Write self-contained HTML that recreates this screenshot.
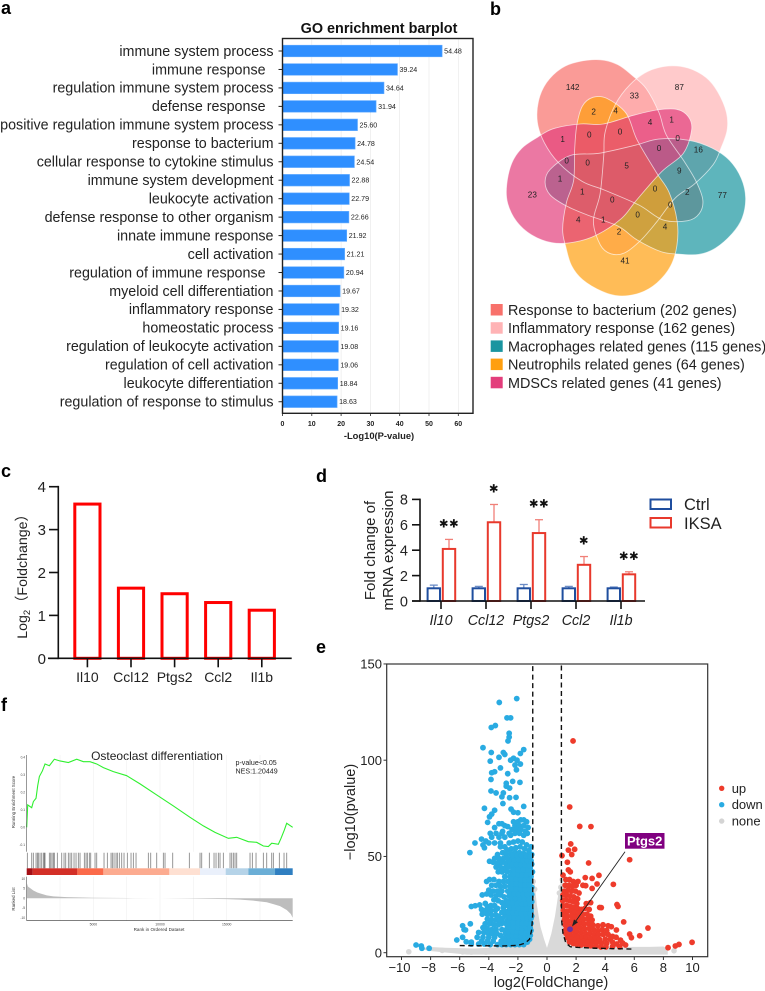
<!DOCTYPE html>
<html lang="en">
<head>
<meta charset="utf-8">
<title>Multi-panel enrichment figure</title>
<style>
html,body{margin:0;padding:0;background:#fff;}
svg{display:block;position:absolute;left:0;top:0;font-family:"Liberation Sans","Noto Sans CJK SC",sans-serif;}
.pl{font-size:18px;font-weight:bold;fill:#000;}
</style>
</head>
<body>
<svg id="figure" width="765" height="991" viewBox="0 0 765 991" xmlns="http://www.w3.org/2000/svg">
  <rect x="0" y="0" width="765" height="991" fill="#fff"/>
  <text class="pl" x="1" y="14">a</text>
  <text class="pl" x="490" y="15">b</text>
  <text class="pl" x="1" y="477">c</text>
  <text class="pl" x="316" y="482">d</text>
  <text class="pl" x="316" y="653">e</text>
  <text class="pl" x="1" y="711">f</text>

  <g id="panel-a">
    <text x="379" y="33" text-anchor="middle" font-size="14.4" font-weight="bold" fill="#111">GO enrichment barplot</text>
    <text x="379" y="439" text-anchor="middle" font-size="9.4" font-weight="bold" fill="#222">-Log10(P-value)</text>
  </g>

  <g id="panel-b">
    <g id="venn-shapes" transform="translate(470,0) scale(0.33333)"></g>
    <g id="venn-counts" transform="translate(470,0) scale(0.33333)" font-size="24.5" text-anchor="middle" fill="#222">
      <text x="308" y="270">142</text>
      <text x="628" y="270">87</text>
      <text x="493" y="296">33</text>
      <text x="371" y="343">2</text>
      <text x="437" y="341">4</text>
      <text x="540" y="375">4</text>
      <text x="605" y="368">1</text>
      <text x="278" y="426">1</text>
      <text x="358" y="413">0</text>
      <text x="450" y="403">0</text>
      <text x="623" y="423">0</text>
      <text x="567" y="453">0</text>
      <text x="685" y="457">16</text>
      <text x="290" y="491">0</text>
      <text x="353" y="496">0</text>
      <text x="470" y="505">5</text>
      <text x="628" y="520">9</text>
      <text x="270" y="545">1</text>
      <text x="187" y="593">23</text>
      <text x="337" y="583">1</text>
      <text x="427" y="608">0</text>
      <text x="555" y="575">0</text>
      <text x="652" y="585">2</text>
      <text x="757" y="594">77</text>
      <text x="601" y="622">0</text>
      <text x="503" y="653">0</text>
      <text x="325" y="668">4</text>
      <text x="400" y="668">1</text>
      <text x="585" y="688">4</text>
      <text x="447" y="703">2</text>
      <text x="465" y="790">41</text>
    </g>
    <g id="venn-legend" font-size="14.4" fill="#222">
      <rect x="490.7" y="304" width="12" height="11.5" fill="#f8716b"/>
      <text x="508" y="315">Response to bacterium (202 genes)</text>
      <rect x="490.7" y="322.2" width="12" height="11.5" fill="#ffb3b5"/>
      <text x="508" y="333.2">Inflammatory response (162 genes)</text>
      <rect x="490.7" y="340.4" width="12" height="11.5" fill="#1a95a0"/>
      <text x="508" y="351.4">Macrophages related genes (115 genes)</text>
      <rect x="490.7" y="358.6" width="12" height="11.5" fill="#ff9f10"/>
      <text x="508" y="369.6">Neutrophils related genes (64 genes)</text>
      <rect x="490.7" y="376.8" width="12" height="11.5" fill="#e33e7c"/>
      <text x="508" y="387.8">MDSCs related genes (41 genes)</text>
    </g>
  </g>

  <g id="panel-c">
    <text transform="translate(27,573) rotate(-90)" text-anchor="middle" font-size="14.2" fill="#222">Log<tspan font-size="9.5" dy="3">2</tspan><tspan dy="-3">（Foldchange）</tspan></text>
  </g>

  <g id="panel-d">
    <text transform="translate(375,550.5) rotate(-90)" text-anchor="middle" font-size="15" fill="#222">Fold change of</text>
    <text transform="translate(393,550.5) rotate(-90)" text-anchor="middle" font-size="15" fill="#222">mRNA expression</text>
    <rect x="650.5" y="499.5" width="20.5" height="9.5" fill="none" stroke="#1f4e9e" stroke-width="2"/>
    <text x="684" y="510" font-size="16.5" fill="#222">Ctrl</text>
    <rect x="650.5" y="518" width="20.5" height="9.5" fill="none" stroke="#e8392c" stroke-width="2"/>
    <text x="684" y="529" font-size="16.5" fill="#222">IKSA</text>
  </g>

  <g id="panel-e">
    <text transform="translate(355,812) rotate(-90)" text-anchor="middle" font-size="14.5" fill="#222">−log10(pvalue)</text>
    <text x="551" y="987" text-anchor="middle" font-size="14.3" fill="#222">log2(FoldChange)</text>
  </g>

  <g id="panel-f">
    <text x="157" y="760" text-anchor="middle" font-size="12" fill="#222">Osteoclast differentiation</text>
    <text x="235.5" y="765" font-size="7.1" fill="#222">p-value&lt;0.05</text>
    <text x="235.5" y="773.5" font-size="7.1" fill="#222">NES:1.20449</text>
    <text transform="translate(15,802) rotate(-90)" text-anchor="middle" font-size="4.4" fill="#333">Running Enrichment Score</text>
    <text transform="translate(15,899) rotate(-90)" text-anchor="middle" font-size="4.4" fill="#333">Ranked List</text>
    <text x="159" y="931" text-anchor="middle" font-size="4.6" fill="#333">Rank in Ordered Dataset</text>
  </g>
</svg>
<script>
/* ---------- panel a data ---------- */
const goTerms = ['immune system process','immune response\u00a0\u00a0','regulation immune system process','defense response\u00a0\u00a0','positive regulation immune system process','response to bacterium','cellular response to cytokine stimulus','immune system development','leukocyte activation','defense response to other organism','innate immune response','cell activation','regulation of immune response\u00a0\u00a0','myeloid cell differentiation','inflammatory response','homeostatic process','regulation of leukocyte activation','regulation of cell activation','leukocyte differentiation','regulation of response to stimulus'];
const goValues = [54.48,39.24,34.64,31.94,25.60,24.78,24.54,22.88,22.79,22.66,21.92,21.21,20.94,19.67,19.32,19.16,19.08,19.06,18.84,18.63];
const goTicks = [0,10,20,30,40,50,60];

/* ---------- panel c data ---------- */
const fcGenes = ['Il10','Ccl12','Ptgs2','Ccl2','Il1b'];
const fcValues = [3.63,1.67,1.54,1.335,1.156];
const fcTicks = [0,1,2,3,4];

/* ---------- panel d data ---------- */
const qpcrGenes = ['Il10','Ccl12','Ptgs2','Ccl2','Il1b'];
const ctrlMeans = [1,1,1,1,1];
const ctrlErrTops = [1.25,1.15,1.3,1.15,1.1];
const iksaMeans = [4.1,6.2,5.35,2.85,2.1];
const iksaErrTops = [4.85,7.6,6.4,3.5,2.3];
const qpcrStars = ['✱✱','✱','✱✱','✱','✱✱'];
const qpcrTicks = [0,2,4,6,8];

/* ---------- panel e data ---------- */
const volcanoXTicks = [-10,-8,-6,-4,-2,0,2,4,6,8,10];
const volcanoYTicks = [0,50,100,150];
const noneEnvelopeX = [-8.6,-8.2,-7,-6,-5,-4,-3,-2,-1.2,-1,-0.85,-0.7,-0.45,-0.2,0,0.1,0.3,0.55,0.75,0.95,1.1,1.25,1.5,2,3,4,5,6,7,8,8.3,8.3,-5.5,-8.2];
const noneEnvelopeY = [2,3,2.6,2.4,2.2,2.6,3,3.4,20,35,36,25,13.5,7,2.5,5,10,19,29,37,36,20,4,3,3,2.8,3,3,3,3.2,2,-1,-1,1];
const nonePoints = [[-9.5,0.5],[-8.1,2.3],[-7.2,1.2],[-5.8,0.4],[-5.2,0.3],[-4.2,0.3],[-3.6,0.5],[-0.95,37],[-0.85,33],[1.05,38],[0.95,34],[0.85,31],[8.73,1],[7.6,1.5],[6.5,1.2],[5.5,1],[4.3,0.7]];
const upPoints = [[1.79,110],[1.56,75.7],[2.25,65.6],[3.02,65.5],[1.63,56.5],[1.47,53.3],[1.9,53.7],[1.7,51],[1.03,50.4],[5.68,48.3],[2.86,46.6],[1.4,47],[1.47,43],[1.6,42],[1.1,40.3],[3.57,40.2],[2.63,39],[4.56,35.5],[3.44,35.7],[3.1,38.6],[2.47,35],[2.66,34.8],[2.13,37],[3.1,33.4],[4.81,25],[4.88,24],[3.62,23.5],[3.73,23.4],[5.27,16],[6.94,12.8],[6.37,8.8],[5.68,9.7],[5.8,7.8],[9.97,5.4],[9.07,4.3],[8.82,3.5],[8.32,2.6],[4.2,14],[4.42,13.5],[4.77,11.8],
[1.3,38],[1.55,38],[1.8,37],[2,35],[1.25,35],[1.5,35],[1.75,34.5],[1.2,32],[1.45,32.5],[1.7,32],[1.95,32],[2.2,31],[1.1,30],[1.35,30],[1.6,29.5],[1.85,29],[2.1,28],[1.08,27],[1.3,27.5],[1.55,27],[1.8,26.5],[2.05,25.5],[2.7,25.5],[3,26],[1.1,24.5],[1.35,24.5],[1.6,24],[1.85,23.5],[2.1,23],[2.35,22.5],[2.6,23],[2.9,22.5],[1.12,22],[1.4,21.5],[1.65,21.5],[1.9,21],[2.15,20.5],[2.45,20],[2.75,20],[3,19],[1.15,19.5],[1.4,19],[1.7,19],[1.95,18.5],[2.2,18],[2.5,17.5],[2.8,17.5],[3.1,17],[1.2,17],[1.45,16.5],[1.7,16.5],[1.95,16],[2.25,15.5],[2.55,15],[2.85,15],[3.15,14.5],[3.5,14],[3.85,14.5],[1.25,14.5],[1.5,14],[1.75,14],[2,13.5],[2.3,13],[2.6,12.5],[2.9,12.5],[3.2,12],[3.5,11.5],[3.8,12],[4.1,11.5],[1.3,12],[1.55,11.5],[1.8,11.5],[2.05,11],[2.35,10.5],[2.65,10],[2.95,10],[3.25,9.5],[3.55,9.5],[3.85,9.5],[4.2,9.5],[4.5,8.5],[1.3,10],[1.55,9.5],[1.85,9],[2.1,8.5],[2.4,8],[2.7,8],[3,7.5],[3.3,7.5],[3.6,7],[4,7],[4.35,7],[4.75,8],[5.05,6.5],[1.4,7.8],[1.65,7.2],[1.9,6.5],[2.2,6],[2.5,6],[2.8,5.5],[3.1,5.5],[3.4,5],[3.75,5],[4.1,4.8],[4.5,5.5],[4.8,4.5],[5.2,5],[5.4,4],[1.55,5.5],[1.8,4.8],[2.05,4.3],[2.35,4],[2.7,3.8],[3,3.6],[3.35,3.4],[3.7,3],[4.05,3],[4.5,3.2],[5,3]];
const focusGene = [1.58,12.2];
const downPoints = [[-2.08,132],[-3.28,130],[-2.75,122],[-2.5,122],[-3.83,117],[-3.55,118],[-2.6,114],[-2.6,112],[-2.68,110],[-4.4,106.5],[-1.6,105.5],[-1.83,103.5],[-3,104],[-2.9,103],[-3.83,104],[-3.3,101.5],[-3.9,99.5],[-2.3,101],[-2.5,100],[-2.06,100],[-1.83,98],[-2.2,97.5],[-2.1,95],[-3.2,96],[-3.8,93.5],[-3.6,94],[-2.7,93],[-3.85,90],[-2.36,89],[-1.86,88.5],[-2.8,88],[-2.8,86.5],[-2.57,85.5],[-3,83],[-3.85,84],[-3.5,83],[-3.1,81],[-2.57,80.5],[-2.13,80.7],[-3.03,77.5],[-1.6,76],[-4.3,75],[-2.47,74.6],[-2.3,73],[-2,72.7],[-3.6,74],[-3.8,72],[-3.95,70.6],[-4.08,67.7],
[-3.3,67],[-3.1,67],[-2.9,66],[-2.7,65.5],[-2.3,68],[-2.0,68],[-1.8,69],[-1.6,69],[-1.4,68],[-2.2,66],[-1.9,66],[-1.6,66],[-2.4,64],[-2.1,64],[-1.8,64],[-1.5,63],[-1.3,65],[-2.5,61],[-2.2,62],[-1.9,62],[-1.6,61],[-1.35,62],[-3.6,65],[-3.9,62],[-3.5,62],[-3.1,62],[-2.9,60],[-2.6,62],[-4.5,59],[-4.2,58],[-3.8,60],[-3.3,60],[-3.05,63],[-4.95,57],[-4.4,56],[-4.3,54.5],[-4,57],[-3.6,57],[-3.2,57],[-5.3,52],
[-3.2,55],[-2.9,55],[-2.6,57],[-2.3,57.5],[-2,58],[-1.7,57.5],[-1.4,56],[-1.1,55],[-2.75,53.5],[-2.45,54],[-2.15,54.5],[-1.85,55],[-1.55,54],[-1.25,53],[-3.4,51],[-3.05,52],[-2.8,51],[-2.5,51.5],[-2.2,52],[-1.9,52],[-1.6,51.5],[-1.3,51],[-1.05,51],[-3.6,49],[-3.3,49],[-3,49],[-2.7,49],[-2.4,49.5],[-2.1,49.5],[-1.8,49],[-1.5,49],[-1.2,48.5],[-3.95,47.5],[-3.7,47],[-3.4,46.5],[-3.1,47],[-2.85,46.5],[-2.55,47],[-2.25,47],[-1.95,47],[-1.65,46.5],[-1.35,46.5],[-1.05,46],[-3.5,44.5],[-3.2,44.5],[-2.9,44],[-2.65,44.5],[-2.35,44.5],[-2.05,44.5],[-1.75,44],[-1.45,44],[-1.15,44],[-3.35,42],[-3.1,42],[-2.75,42],[-2.45,42],[-2.15,42],[-1.85,41.5],[-1.55,41.5],[-1.25,41.5],[-1,42],[-2.9,39.5],[-2.55,39.5],[-2.25,39.5],[-1.95,39],[-1.65,39],[-1.35,39],[-1.1,39.5],[-3.95,38],[-4.15,37],[-3.65,38],[-3.3,37],[-3,37],[-2.7,37],[-2.4,37],[-2.1,37],[-1.8,36.5],[-1.5,36.5],[-1.2,36.5],[-3.8,35],[-3.5,35],[-3.2,34.5],[-2.9,34.5],[-2.55,34.5],[-2.25,34.5],[-1.95,34],[-1.65,34],[-1.35,34],[-1.05,34],[-4,32.5],[-3.7,32],[-3.4,32],[-3.1,32],[-2.7,32],[-2.4,32],[-2.1,31.5],[-1.8,31.5],[-1.5,31.5],[-1.2,31.5],[-4.45,30],[-4.15,30.5],[-3.85,30],[-3.5,29.5],[-3.2,30],[-2.6,29.5],[-2.3,29.5],[-2,29],[-1.7,29],[-1.4,29],[-1.1,29],[-3.65,27.5],[-3.35,27],[-2.8,27],[-2.5,27],[-2.2,27],[-1.9,26.5],[-1.6,26.5],[-1.3,26.5],[-1.05,26.5],[-5.2,24],[-4.93,24.4],[-4.63,24.8],[-4.24,25.6],[-4.1,24],[-3.85,24.5],[-3.6,24.5],[-2.7,24.5],[-2.4,24.5],[-2.1,24.5],[-1.8,24],[-1.5,24],[-1.2,24],[-4.5,22.5],[-4.2,22],[-3.85,22],[-3.55,22],[-2.6,22],[-2.3,22],[-2,22],[-1.7,21.5],[-1.4,21.5],[-1.1,21.5],[-4.45,20],[-4.1,20],[-3.8,19.5],[-3.5,19.5],[-2.85,19.5],[-2.5,19.5],[-2.2,19.5],[-1.9,19],[-1.6,19],[-1.3,19],[-1.05,19],[-4.1,17.5],[-3.8,17],[-3.5,17],[-2.7,17],[-2.4,17],[-2.1,17],[-1.8,16.5],[-1.5,16.5],[-1.2,16.5],[-5.27,15],[-4.25,15],[-3.95,15],[-3.65,14.5],[-3.35,14.5],[-2.75,14.5],[-2.45,14.5],[-2.15,14.5],[-1.85,14],[-1.55,14],[-1.25,14],[-5.8,14],[-5.7,12],[-5.6,11.8],[-4.4,13],[-4.1,12.5],[-3.8,12],[-3.5,12],[-2.8,12],[-2.5,12],[-2.2,12],[-1.9,11.5],[-1.6,11.5],[-1.3,11.5],[-1.1,11.5],[-4.7,10.5],[-4.35,10.5],[-4.05,10],[-3.75,10],[-3.45,10],[-2.85,10],[-2.55,9.5],[-2.25,9.5],[-1.95,9.5],[-1.65,9.5],[-1.35,9.5],[-1.15,9],[-5.8,8],[-5.55,5.7],[-4.8,8],[-4.4,8],[-4,8],[-3.6,8],[-3,7.5],[-2.75,7.5],[-2.45,7.5],[-2.2,7.5],[-1.95,7.5],[-1.7,7],[-1.4,7],[-1.2,7],[-6.2,6.6],[-5.2,5.5],[-4.5,6],[-4.1,6],[-3.7,6],[-2.9,5.8],[-2.6,5.8],[-2.3,5.8],[-2.05,5.8],[-1.8,5.5],[-1.55,5.5],[-1.35,5.5],[-5.2,4.5],[-4.7,4.5],[-4.3,4.5],[-3.9,4.2],[-3.4,4.2],[-3.1,4.2],[-2.8,4.2],[-2.5,4.2],[-2.2,4.2],[-1.9,4.2],[-1.6,4.2],[-9,4],[-8.64,3.5],[-8.6,2.3],[-8.1,2.3],
[-3.15,6],[-3.2,9],[-3.1,12],[-3.15,15],[-3.05,18],[-3.1,21],[-3,23.5],[-3.1,26],[-2.95,29],[-2.95,15.5],[-2.9,21.5],[-2.95,25],[-3.4,23],[-3.35,19],[-3.25,17],
[-2.65,8.7],[-2.35,8.7],[-2.1,8.7],[-1.8,8.5],[-1.5,8.5],[-1.25,8.3],[-2.65,11],[-2.35,11],[-2.05,10.7],[-1.75,10.5],[-1.45,10.5],[-1.2,10.2],[-2.6,13.3],[-2.3,13.3],[-2,13],[-1.7,12.8],[-1.4,12.8],[-1.15,12.8],[-2.6,15.8],[-2.3,15.8],[-2,15.3],[-1.7,15.3],[-1.4,15.3],[-1.1,15.3],[-2.55,18.2],[-2.25,18.2],[-1.95,17.8],[-1.65,17.8],[-1.35,17.8],[-1.1,17.8],[-2.65,20.8],[-2.35,20.8],[-2.05,20.5],[-1.75,20.3],[-1.45,20.3],[-1.15,20.3],[-2.55,23.2],[-2.25,23.2],[-1.95,23],[-1.65,22.8],[-1.35,22.8],[-1.1,22.8],[-2.65,25.8],[-2.35,25.8],[-2.05,25.5],[-1.75,25.3],[-1.45,25.3],[-1.15,25.3],[-2.45,28.3],[-2.15,28.3],[-1.85,27.8],[-1.55,27.8],[-1.25,27.8],[-2.55,30.8],[-2.25,30.8],[-1.95,30.3],[-1.65,30.3],[-1.35,30.3],[-1.05,30.3],[-2.4,33.2],[-2.1,33],[-1.8,32.8],[-1.5,32.8],[-1.2,32.8],[-2.4,35.8],[-2.1,35.8],[-1.8,35.3],[-1.5,35.3],[-1.2,35.3],[-2.4,38.2],[-2.1,38.2],[-1.8,37.8],[-1.5,37.8],[-1.2,37.8],[-2.3,40.8],[-2,40.5],[-1.7,40.3],[-1.4,40.3],[-1.1,40.8],[-2.3,43.2],[-2,43.2],[-1.6,43],[-1.3,43],[-2.4,45.8],[-2.1,45.8],[-1.8,45.5],[-1.5,45.5],[-1.2,45.3],[-2.25,48.3],[-1.95,48.3],[-1.65,48],[-1.35,47.8],[-1.1,47.8],[-2.35,50.5],[-2.05,50.5],[-1.75,50.5],[-1.45,50.3],[-1.15,50]];
const thresholdLeftX = [-6,-3,-2,-1.5,-1.2,-1.05,-0.98,-0.98];
const thresholdLeftY = [3.7,3.5,3.8,5,7,12,20,150];
const thresholdRightX = [5.8,3,2,1.6,1.3,1.1,0.99,0.99];
const thresholdRightY = [1.9,2.4,2.8,3.1,5,10,18,150];
const volcanoLegendLabels = ['up','down','none'];
const volcanoLegendColors = ['#ee3b2b','#29abe2','#d4d4d4'];

/* ---------- panel f data ---------- */
const esRanks = [0,75,375,500,700,825,950,1175,1375,1700,2075,2500,3125,3750,4250,4750,5250,5750,6500,7500,8500,9750,11000,12250,13250,14125,15125,15750,16625,17250,17750,18125,18375,18875,19075,19325,19500,19950];
const esValues = [0,0.128,0.112,0.147,0.166,0.238,0.29,0.322,0.362,0.352,0.389,0.379,0.37,0.389,0.375,0.375,0.362,0.341,0.318,0.295,0.248,0.185,0.122,0.057,0.008,-0.029,-0.063,-0.057,-0.082,-0.086,-0.107,-0.11,-0.091,-0.097,-0.063,-0.015,0.023,0];
const esTicks = [-0.1,0,0.1,0.2,0.3,0.4];
const hitRanks = [50,375,500,700,800,875,1000,1125,1250,1325,1375,1700,1800,1900,2000,2075,2300,2625,2800,2925,3125,3250,3375,3550,3700,3875,4000,4325,4450,4550,4700,4800,5125,5250,5800,6050,6325,6425,6550,6700,6800,6950,7125,7300,7550,7825,8000,8200,9125,9300,9750,10250,10375,10950,12200,13000,13125,13700,14050,14200,14375,14500,14750,15250,15375,15500,15625,15750,16750,16925,17200,17750,18000,18375,18500,18950,19300,19500];
const heatBreaks = [0,450,3800,5750,10700,13000,14925,16625,18625,19950];
const heatColors = ['#a50f15','#d32f27','#fb6a4a','#fcab90','#fee0d2','#eaf0fb','#b5d3e8','#6baed6','#2f7fc1'];
const rankedRanks = [0,100,300,500,800,1000,1500,2000,3000,5000,8000,10000,12000,15000,16000,17000,18000,18500,19000,19500,19800,19950];
const rankedValues = [8,6,5,4,3,2.5,1.5,1,0.6,0.3,0.1,0,-0.1,-0.4,-0.7,-1.2,-2,-3,-4,-6,-8,-10];
const rankedTicks = [-10,-5,0,5,10];
const gseaXTicks = [5000,10000,15000];
const gseaGrid = [2500,5000,7500,10000,12500,15000,17500];

/* ---------- helpers and scales ---------- */
const NS = 'http://www.w3.org/2000/svg';
function el(parent, tag, attrs, text) {
  const e = document.createElementNS(NS, tag);
  for (const k in attrs) e.setAttribute(k, attrs[k]);
  if (text !== undefined) e.textContent = text;
  parent.appendChild(e);
  return e;
}
const goX = v => 282.5 + v * 2.93;
const goY = i => 51 + i * 18.46;
const cX = i => 87.4 + i * 43.6;
const cY = v => 658.3 - v * 42.9;
const dX = i => 441 + i * 45;
const dY = v => 601 - v * 12.7;
const eX = v => 547 + v * 14.55;
const eY = v => 952.7 - v * 1.925;
const fX = r => 26.7 + r * 0.013333;
const fES = v => 827.3 - v * 175;
const fRK = v => 898.3 - v * 1.95;
const pairsPath = (xs, ys, fx, fy) => xs.map((x, i) => (i ? 'L' : 'M') + fx(x).toFixed(2) + ' ' + fy(ys[i]).toFixed(2)).join('');

/* ---------- panel a ---------- */
const pa = document.getElementById('panel-a');
goTicks.forEach(t => {
  if (t === 0) return;
  const g = el(pa, 'line', {x1: goX(t), x2: goX(t), y1: 38.5, y2: 413, stroke: '#cfcfcf', 'stroke-width': 0.6, 'stroke-dasharray': '1 1'});
  
  
});
goTerms.forEach((term, i) => {
  const bar = el(pa, 'rect', {x: goX(0), y: goY(i) - 5.8, width: goX(goValues[i]) - goX(0), height: 11.6, fill: '#2f8fff', stroke: '#66adff', 'stroke-width': 0.6});
  
  
  const tick = el(pa, 'line', {x1: 278.5, x2: goX(0), y1: goY(i), y2: goY(i), stroke: '#222', 'stroke-width': 1});
  
  
  const lab = el(pa, 'text', {x: 273.5, y: goY(i) + 4.8, 'text-anchor': 'end', 'font-size': 14.3, fill: '#222'}, term);
  
  
  const val = el(pa, 'text', {x: goX(goValues[i]) + 2, y: goY(i) + 2.5, 'font-size': 7.1, fill: '#222'}, goValues[i].toFixed(2));
  
  
});
const goFrame = el(pa, 'rect', {x: 282.5, y: 38.5, width: 190.5, height: 374.8, fill: 'none', stroke: '#222', 'stroke-width': 1.4});


goTicks.forEach(t => {
  const tk = el(pa, 'line', {x1: goX(t), x2: goX(t), y1: 413.3, y2: 416, stroke: '#222', 'stroke-width': 0.8});
  
  
  const tl = el(pa, 'text', {x: goX(t), y: 426, 'text-anchor': 'middle', 'font-size': 7, 'font-weight': 'bold', fill: '#222'}, t);
  
  
});

/* ---------- panel b ---------- */
const vennOutline = [[202,412],[250,386],[330,372],[400,372],[490,346],[560,330],[620,328],[655,350],[665,390],[640,460],[575,515],[500,600],[455,655],[380,705],[310,727],[245,728],[185,705],[140,665],[113,610],[110,555],[125,490],[155,445]];
function closedSpline(p) {
  let d = 'M' + p[0][0] + ' ' + p[0][1];
  const n = p.length;
  for (let i = 0; i < n; i++) {
    const a = p[(i - 1 + n) % n], b = p[i], c = p[(i + 1) % n], e = p[(i + 2) % n];
    const c1x = b[0] + (c[0] - a[0]) / 6, c1y = b[1] + (c[1] - a[1]) / 6;
    const c2x = c[0] - (e[0] - b[0]) / 6, c2y = c[1] - (e[1] - b[1]) / 6;
    d += 'C' + c1x.toFixed(1) + ' ' + c1y.toFixed(1) + ' ' + c2x.toFixed(1) + ' ' + c2y.toFixed(1) + ' ' + c[0] + ' ' + c[1];
  }
  return d + 'Z';
}
const vennD = closedSpline(vennOutline);
const vennLayers = [[72,'#f8716b'],[144,'#ffb3b5'],[216,'#1a95a0'],[288,'#ff9f10'],[0,'#e33e7c']];
const vs = document.getElementById('venn-shapes');
vennLayers.forEach(l => {
  const s = el(vs, 'path', {d: vennD, transform: 'rotate(' + l[0] + ' 472 518)', fill: l[1], 'fill-opacity': 0.7});
  
  
});
vennLayers.forEach(l => {
  const s = el(vs, 'path', {d: vennD, transform: 'rotate(' + l[0] + ' 472 518)', fill: 'none', stroke: '#fff', 'stroke-opacity': 0.65, 'stroke-width': 2.6});
  
  
});

/* ---------- panel c ---------- */
const pc = document.getElementById('panel-c');
fcGenes.forEach((g, i) => {
  const b = el(pc, 'rect', {x: cX(i) - 12.6, y: cY(fcValues[i]) + 1.5, width: 25.2, height: cY(0) - cY(fcValues[i]) - 1.5, fill: 'none', stroke: '#ff0000', 'stroke-width': 3});
  
  
  const t = el(pc, 'line', {x1: cX(i), x2: cX(i), y1: cY(0), y2: cY(0) + 9, stroke: '#111', 'stroke-width': 1.6});
  
  
  const l = el(pc, 'text', {x: cX(i), y: 682, 'text-anchor': 'middle', 'font-size': 14, fill: '#222'}, g);
  
  
});
const cAxisY = el(pc, 'line', {x1: 58.3, x2: 58.3, y1: cY(4) - 0.8, y2: cY(0) + 0.8, stroke: '#111', 'stroke-width': 1.6});


const cAxisX = el(pc, 'line', {x1: 48, x2: 291.7, y1: cY(0), y2: cY(0), stroke: '#111', 'stroke-width': 1.6});


fcTicks.forEach(v => {
  const t = el(pc, 'line', {x1: 49, x2: 58.3, y1: cY(v), y2: cY(v), stroke: '#111', 'stroke-width': 1.6});
  
  
  const l = el(pc, 'text', {x: 46, y: cY(v) + 5.5, 'text-anchor': 'end', 'font-size': 15, fill: '#222'}, v);
  
  
});

/* ---------- panel d ---------- */
const pd = document.getElementById('panel-d');
qpcrGenes.forEach((g, i) => {
  const cx0 = dX(i) - 7.2, cx1 = dX(i) + 8;
  [[cx0, ctrlMeans[i], ctrlErrTops[i], '#1f4e9e', '#6b8cc6'], [cx1, iksaMeans[i], iksaErrTops[i], '#e8392c', '#f08078']].forEach(s => {
    const stem = el(pd, 'line', {x1: s[0], x2: s[0], y1: dY(s[1]), y2: dY(s[2]), stroke: s[4], 'stroke-width': 1.3});
    
    
    const cap = el(pd, 'line', {x1: s[0] - 4, x2: s[0] + 4, y1: dY(s[2]), y2: dY(s[2]), stroke: s[4], 'stroke-width': 1.3});
    
    
    const bar = el(pd, 'rect', {x: s[0] - 6.2, y: dY(s[1]), width: 12.4, height: dY(0) - dY(s[1]), fill: '#fff', stroke: s[3], 'stroke-width': 2});
    
    
  });
  const st = el(pd, 'text', {x: dX(i) + 8, y: dY(iksaErrTops[i]) - 12, 'text-anchor': 'middle', 'font-size': 11.5, 'font-family': '"DejaVu Sans",sans-serif', 'letter-spacing': 0.5, fill: '#111'}, qpcrStars[i]);
  
  
  const t = el(pd, 'line', {x1: dX(i), x2: dX(i), y1: dY(0), y2: dY(0) + 8, stroke: '#111', 'stroke-width': 1.6});
  
  
  const l = el(pd, 'text', {x: dX(i), y: 625, 'text-anchor': 'middle', 'font-size': 14.3, 'font-style': 'italic', fill: '#222'}, g);
  
  
});
const dAxisY = el(pd, 'line', {x1: 420, x2: 420, y1: dY(8) - 0.8, y2: dY(0) + 0.8, stroke: '#111', 'stroke-width': 1.6});


const dAxisX = el(pd, 'line', {x1: 412, x2: 645, y1: dY(0), y2: dY(0), stroke: '#111', 'stroke-width': 1.6});


qpcrTicks.forEach(v => {
  const t = el(pd, 'line', {x1: 412, x2: 420, y1: dY(v), y2: dY(v), stroke: '#111', 'stroke-width': 1.6});
  
  
  const l = el(pd, 'text', {x: 408, y: dY(v) + 5.3, 'text-anchor': 'end', 'font-size': 14.5, fill: '#222'}, v);
  
  
});

/* ---------- panel e ---------- */
const pe = document.getElementById('panel-e');
const greyArea = el(pe, 'path', {d: pairsPath(noneEnvelopeX, noneEnvelopeY, eX, eY) + 'Z', fill: '#d9d9d9'});


nonePoints.forEach(p => {
  const c = el(pe, 'circle', {cx: eX(p[0]), cy: eY(p[1]), r: 2.8, fill: '#d9d9d9'});
  
  
});
downPoints.forEach(p => {
  const c = el(pe, 'circle', {cx: eX(p[0]), cy: eY(p[1]), r: 2.9, fill: '#29abe2'});
  
  
});
upPoints.forEach(p => {
  const c = el(pe, 'circle', {cx: eX(p[0]), cy: eY(p[1]), r: 2.9, fill: '#ee3b2b'});
  
  
});
const focus = el(pe, 'circle', {cx: eX(focusGene[0]), cy: eY(focusGene[1]), r: 2.9, fill: '#7030a0'});


const dl = el(pe, 'path', {d: pairsPath(thresholdLeftX, thresholdLeftY, eX, eY), fill: 'none', stroke: '#111', 'stroke-width': 1.4, 'stroke-dasharray': '5 3.5'});


const dr = el(pe, 'path', {d: pairsPath(thresholdRightX, thresholdRightY, eX, eY), fill: 'none', stroke: '#111', 'stroke-width': 1.4, 'stroke-dasharray': '5 3.5'});


const eFrame = el(pe, 'rect', {x: 386.7, y: 664, width: 321, height: 292.7, fill: 'none', stroke: '#333', 'stroke-width': 1.2});


volcanoXTicks.forEach(v => {
  const t = el(pe, 'line', {x1: eX(v), x2: eX(v), y1: 956.7, y2: 960, stroke: '#333', 'stroke-width': 1});
  
  
  const l = el(pe, 'text', {x: eX(v) - (v < 0 ? 2 : 0), y: 972, 'text-anchor': 'middle', 'font-size': 13, fill: '#222'}, v < 0 ? '−' + (-v) : v);
  
  
});
volcanoYTicks.forEach(v => {
  const t = el(pe, 'line', {x1: 383.5, x2: 386.7, y1: eY(v), y2: eY(v), stroke: '#333', 'stroke-width': 1});
  
  
  const l = el(pe, 'text', {x: 382, y: eY(v) + 4.7, 'text-anchor': 'end', 'font-size': 13, fill: '#222'}, v);
  
  
});
const arrow = el(pe, 'line', {x1: 625, y1: 851.7, x2: 573, y2: 925, stroke: '#222', 'stroke-width': 0.9});


const head = el(pe, 'polygon', {points: '572,926.5 574,919.5 578,922.3', fill: '#222'});


const lblBg = el(pe, 'rect', {x: 625, y: 833, width: 39.5, height: 15.7, fill: '#800080'});


const lbl = el(pe, 'text', {x: 644.7, y: 845.3, 'text-anchor': 'middle', 'font-size': 13, 'font-weight': 'bold', fill: '#fff'}, 'Ptgs2');


volcanoLegendLabels.forEach((t, i) => {
  const y = 788.3 + i * 16.4;
  const c = el(pe, 'circle', {cx: 721.7, cy: y, r: 2.7, fill: volcanoLegendColors[i]});
  
  
  const l = el(pe, 'text', {x: 731.7, y: y + 4.5, 'font-size': 13, fill: '#222'}, t);
  
  
});

/* ---------- panel f ---------- */
const pf = document.getElementById('panel-f');
gseaGrid.forEach(r => {
  const g1 = el(pf, 'line', {x1: fX(r), x2: fX(r), y1: 755, y2: 851.7, stroke: '#ececec', 'stroke-width': 0.5});
  
  
  const g2 = el(pf, 'line', {x1: fX(r), x2: fX(r), y1: 876.7, y2: 920.7, stroke: '#ececec', 'stroke-width': 0.5});
  
  
});
const esLine = el(pf, 'path', {d: pairsPath(esRanks, esValues, fX, fES), fill: 'none', stroke: '#2ff02f', 'stroke-width': 1.1});


hitRanks.forEach(r => {
  const h = el(pf, 'line', {x1: fX(r), x2: fX(r), y1: 852.7, y2: 868.3, stroke: '#000', 'stroke-opacity': 0.45, 'stroke-width': 0.9});
  
  
});
heatColors.forEach((col, i) => {
  const s = el(pf, 'rect', {x: fX(heatBreaks[i]), y: 868.3, width: fX(heatBreaks[i + 1]) - fX(heatBreaks[i]), height: 6.7, fill: col});
  
  
});
const rankArea = el(pf, 'path', {d: 'M' + fX(0) + ' ' + fRK(0) + pairsPath(rankedRanks, rankedValues, fX, fRK).replace('M', 'L') + 'L' + fX(19950) + ' ' + fRK(0) + 'Z', fill: '#bdbdbd'});


const fAx1 = el(pf, 'line', {x1: 26.7, x2: 26.7, y1: 755, y2: 851.7, stroke: '#333', 'stroke-width': 0.5});


const fAx2 = el(pf, 'line', {x1: 26.7, x2: 26.7, y1: 876.7, y2: 920.7, stroke: '#333', 'stroke-width': 0.5});


const fAx3 = el(pf, 'line', {x1: 26.7, x2: 292.7, y1: 920.7, y2: 920.7, stroke: '#333', 'stroke-width': 0.6});


esTicks.forEach(v => {
  const l = el(pf, 'text', {x: 25, y: fES(v) + 1.1, 'text-anchor': 'end', 'font-size': 3.2, fill: '#444'}, v.toFixed(1));
  
  
});
rankedTicks.forEach(v => {
  const l = el(pf, 'text', {x: 25, y: fRK(v) + 1.1, 'text-anchor': 'end', 'font-size': 3.2, fill: '#444'}, v);
  
  
});
gseaXTicks.forEach(v => {
  const l = el(pf, 'text', {x: fX(v), y: 925.5, 'text-anchor': 'middle', 'font-size': 3.4, fill: '#444'}, v);
  
  
});
</script>
</body>
</html>
